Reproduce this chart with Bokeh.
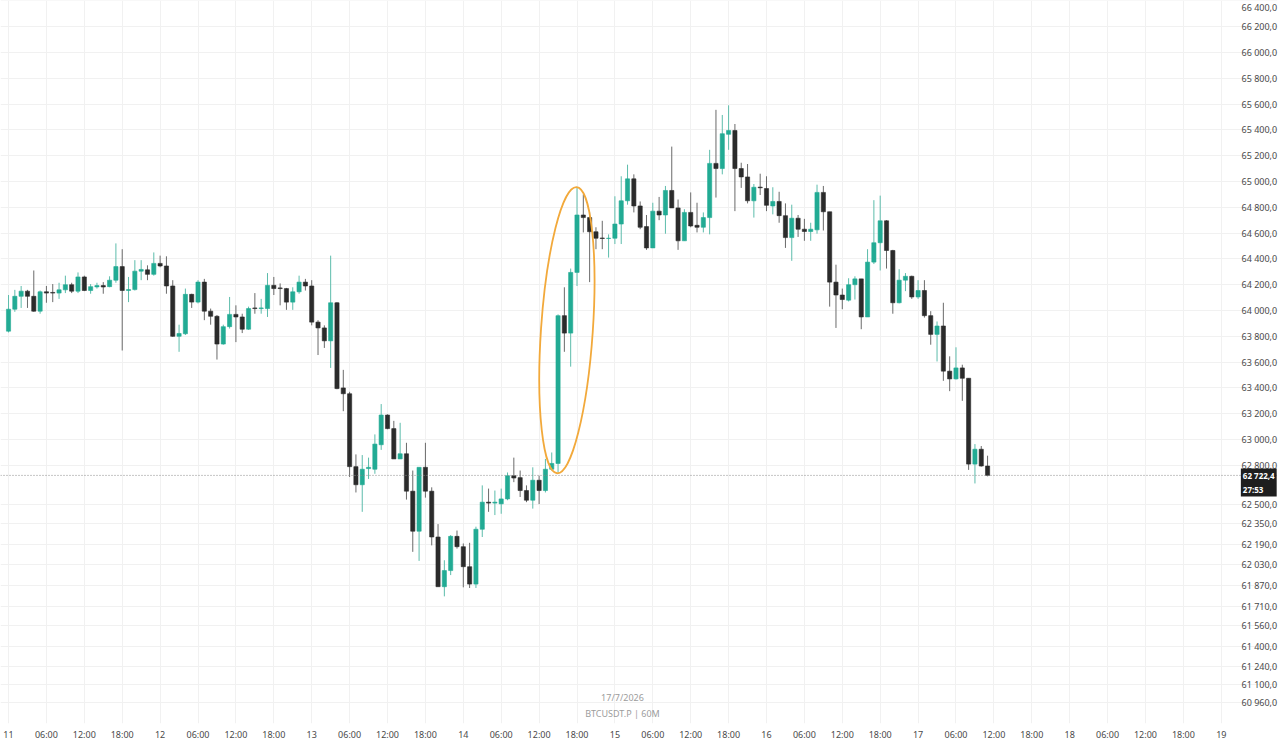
from bokeh.plotting import figure
from bokeh.models import ColumnDataSource, FixedTicker, Span, Label
from bokeh.embed import file_html
from bokeh.resources import INLINE

# hourly candles, BTCUSDT.P 60M, from day 11 00:00
first_day = 11
opens = [63840, 64010, 64110, 64150, 64110, 63995, 64145, 64140, 64135, 64160,
         64200, 64150, 64260, 64155, 64183, 64193, 64185, 64235, 64340, 64155,
         64162, 64305, 64315, 64280, 64365, 64345, 64190, 63800, 63820, 64125,
         64065, 64220, 63995, 63955, 63740, 63875, 63970, 63950, 63855, 64020,
         64015, 64015, 64195, 64175, 64170, 64065, 64145, 64220, 64190, 63910,
         63865, 63765, 64060, 63400, 63355, 62790, 62650, 62775, 62770, 62960,
         63190, 63085, 62850, 62890, 62600, 62290, 62785, 62600, 62245, 61860,
         61985, 62250, 62170, 62015, 61880, 62305, 62515, 62508, 62502, 62540,
         62720, 62705, 62605, 62530, 62685, 62605, 62770, 62815, 63960, 63825,
         64295, 64740, 64720, 64610, 64562, 64558, 64560, 64670, 64850, 65020,
         64810, 64650, 64485, 64770, 64740, 64930, 64795, 64540, 64760, 64660,
         64645, 64720, 65140, 65100, 65365, 65395, 65100, 65035, 64850, 64956,
         64945, 64810, 64845, 64735, 64565, 64715, 64630, 64612, 64625, 64915,
         64765, 64220, 64120, 64080, 64200, 64245, 63950, 64375, 64525, 64695,
         64465, 64060, 64235, 64265, 64105, 64155, 63960, 63815, 63880, 63530,
         63470, 63555, 63475, 62810, 62925, 62795]
highs = [64120, 64160, 64190, 64160, 64310, 64155, 64190, 64205, 64215, 64270,
         64215, 64295, 64270, 64205, 64215, 64220, 64265, 64520, 64475, 64260,
         64390, 64390, 64350, 64450, 64425, 64420, 64235, 63890, 64170, 64130,
         64235, 64245, 64015, 63965, 63890, 64105, 64040, 63975, 64030, 64135,
         64090, 64290, 64260, 64210, 64175, 64180, 64270, 64245, 64235, 63925,
         63885, 64425, 64065, 63540, 63370, 62885, 62880, 62860, 63040, 63275,
         63195, 63145, 63130, 62975, 62760, 62785, 62975, 62630, 62345, 62065,
         62260, 62295, 62195, 62200, 62325, 62645, 62620, 62605, 62620, 62745,
         62860, 62760, 62645, 62785, 62720, 62850, 62900, 63970, 64180, 64325,
         64950, 64900, 64760, 64645, 64695, 64590, 64885, 65040, 65130, 65055,
         64845, 64740, 64835, 64880, 64965, 65270, 64860, 64785, 64915, 64835,
         64760, 65245, 65555, 65515, 65590, 65445, 65145, 65135, 64980, 65060,
         65040, 64955, 64920, 64830, 64820, 64740, 64710, 64680, 64975, 64965,
         64765, 64355, 64170, 64250, 64265, 64245, 64475, 64855, 64890, 64700,
         64470, 64320, 64290, 64270, 64235, 64235, 63995, 63915, 64060, 63645,
         63715, 63580, 63475, 62965, 62950, 62875]
lows = [63830, 63990, 64020, 64020, 63990, 63975, 64060, 64065, 64090, 64135,
        64135, 64135, 64150, 64130, 64170, 64130, 64180, 64215, 63690, 64065,
        64155, 64235, 64235, 64270, 64335, 64130, 63795, 63680, 63810, 64020,
        64055, 63925, 63890, 63620, 63735, 63860, 63755, 63825, 63850, 63975,
        63975, 63950, 64120, 64040, 64005, 64005, 64130, 64155, 63885, 63655,
        63710, 63555, 63390, 63220, 62710, 62590, 62440, 62695, 62735, 62920,
        63080, 62850, 62850, 62535, 62130, 62060, 62550, 62180, 61860, 61785,
        61950, 62155, 61855, 61850, 61850, 62245, 62440, 62415, 62425, 62530,
        62670, 62555, 62515, 62465, 62500, 62590, 62760, 62745, 63680, 63565,
        64190, 64605, 64220, 64475, 64475, 64410, 64515, 64515, 64820, 64760,
        64630, 64470, 64485, 64700, 64595, 64795, 64470, 64540, 64645, 64605,
        64605, 64590, 64875, 65055, 65245, 64770, 64950, 64830, 64720, 64895,
        64770, 64745, 64680, 64485, 64385, 64570, 64540, 64540, 64595, 64620,
        64030, 63865, 64010, 64070, 64085, 63855, 63950, 64360, 64310, 64325,
        63975, 64055, 64150, 64090, 64090, 63945, 63735, 63605, 63455, 63375,
        63465, 63300, 62765, 62660, 62790, 62715]
closes = [64010, 64110, 64150, 64110, 63995, 64145, 64135, 64135, 64160, 64200,
          64150, 64260, 64155, 64185, 64193, 64182, 64235, 64340, 64155, 64162,
          64305, 64318, 64280, 64365, 64345, 64190, 63800, 63822, 64125, 64065,
          64220, 63995, 63955, 63740, 63875, 63970, 63950, 63855, 64015, 64015,
          64020, 64195, 64170, 64170, 64065, 64145, 64220, 64190, 63910, 63865,
          63765, 64060, 63395, 63355, 62790, 62650, 62770, 62785, 62965, 63190,
          63085, 62850, 62890, 62600, 62290, 62785, 62600, 62245, 61860, 61985,
          62250, 62170, 62015, 61880, 62305, 62515, 62508, 62515, 62540, 62720,
          62702, 62605, 62530, 62685, 62605, 62770, 62815, 63960, 63825, 64295,
          64740, 64720, 64610, 64560, 64558, 64560, 64670, 64850, 65020, 64810,
          64645, 64485, 64770, 64740, 64930, 64795, 64540, 64760, 64655, 64645,
          64720, 65140, 65100, 65370, 65395, 65100, 65035, 64850, 64955, 64951,
          64815, 64845, 64735, 64565, 64715, 64630, 64612, 64630, 64915, 64765,
          64220, 64120, 64085, 64200, 64245, 63950, 64375, 64525, 64695, 64465,
          64060, 64235, 64265, 64105, 64155, 63960, 63815, 63880, 63530, 63470,
          63555, 63475, 62810, 62925, 62795, 62722.4]

last_price = 62722.4
countdown = "27:53"
y_ticks = [66400, 66200, 66000, 65800, 65600, 65400, 65200, 65000, 64800, 64600,
           64400, 64200, 64000, 63800, 63600, 63400, 63200, 63000, 62800, 62500,
           62350, 62190, 62030, 61870, 61710, 61560, 61400, 61240, 61100, 60960]
x_ticks = list(range(0, 193, 6))
pump = [87, 88, 89, 90]  # candles circled in orange

UP = "#22ab94"
DOWN = "#2b2b2b"

hours = list(range(len(opens)))
up = [c >= o for o, c in zip(opens, closes)]
src = ColumnDataSource(dict(
    x=hours,
    high=highs,
    low=lows,
    top=[max(o, c) for o, c in zip(opens, closes)],
    bottom=[min(o, c) for o, c in zip(opens, closes)],
    color=[UP if u else DOWN for u in up],
    wick=["#5cbcab" if u else "#6a6a6a" for u in up],
))

# the price scale is drawn over the right end of the frame, as on the trading screen
p = figure(width=1280, height=743, x_range=(-1.27, 200.9), y_range=(60800, 66402),
           y_axis_location="right", toolbar_location=None, output_backend="svg",
           min_border_left=0, min_border_top=0, min_border_right=0, min_border_bottom=0)
p.outline_line_color = None
p.background_fill_color = "white"

p.segment(x0="x", y0="low", x1="x", y1="high", line_color="wick", line_width=1, source=src)
p.vbar(x="x", width=0.66, top="top", bottom="bottom", fill_color="color",
       line_color="color", line_width=0.6, source=src)

# last price line
p.add_layout(Span(location=last_price, dimension="width", line_color="#8c8c8c",
                  line_dash="1 2", line_width=1))

# orange highlight around the pump
lo = min(lows[i] for i in pump)
hi = max(highs[i] for i in pump)
p.ellipse(x=[sum(pump) / len(pump) - 0.1], y=[(lo + hi) / 2], width=[8.2], height=[hi - lo + 20],
          angle=-0.068, fill_color=None, line_color="#f2a93b", line_width=1.8)

# axes
fmt = lambda v: f"{v:,.1f}".replace(",", " ").replace(".", ",")
p.yaxis.ticker = FixedTicker(ticks=y_ticks)
p.yaxis.major_label_overrides = {v: fmt(v) for v in y_ticks}
labels = {}
for h in x_ticks:
    labels[h] = str(first_day + h // 24) if h % 24 == 0 else f"{h % 24:02d}:00"
p.xaxis.ticker = FixedTicker(ticks=x_ticks)
p.xaxis.major_label_overrides = labels
for ax in (p.xaxis, p.yaxis):
    ax.axis_line_color = None
    ax.major_tick_line_color = None
    ax.minor_tick_line_color = None
    ax.major_tick_out = 0
    ax.major_tick_in = 0
    ax.axis_label_standoff = 0
    ax.major_label_text_font = "Noto Sans"
    ax.major_label_text_font_size = "9px"
    ax.major_label_text_color = "#4a4a4a"
p.xaxis.major_label_standoff = 4
p.yaxis.major_label_standoff = -36
p.xgrid.ticker = FixedTicker(ticks=x_ticks)
p.ygrid.ticker = FixedTicker(ticks=y_ticks)
p.xgrid.grid_line_color = "#f1f1f1"
p.ygrid.grid_line_color = "#f1f1f1"

# price tag on the scale
p.add_layout(Label(x=195.1, y=last_price, y_offset=7, text=fmt(last_price) + "\n" + countdown,
                   text_align="left", text_baseline="top", text_color="white",
                   text_font="Noto Sans", text_font_size="8px", text_font_style="bold",
                   background_fill_color="#1e1e1e", padding=2))

# watermark
p.add_layout(Label(x=97.2, y=61005, text="17/7/2026", text_align="center", text_baseline="middle",
                   text_color="#9c9c9c", text_font="Noto Sans", text_font_size="9px"))
p.add_layout(Label(x=97.2, y=60880, text="BTCUSDT.P | 60M", text_align="center",
                   text_baseline="middle", text_color="#9c9c9c", text_font="Noto Sans",
                   text_font_size="9px"))

open("out.html", "w").write(file_html(p, INLINE))
